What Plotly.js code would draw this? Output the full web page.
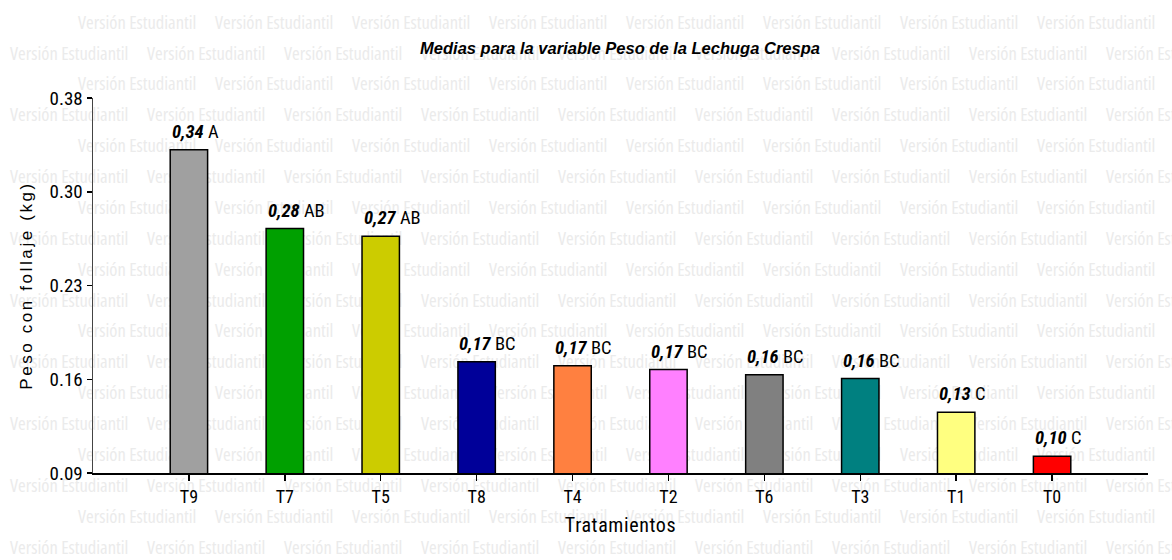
<!DOCTYPE html>
<html><head><meta charset="utf-8">
<script src="https://cdn.plot.ly/plotly-3.0.1.min.js"></script>
<style>
html,body{margin:0;padding:0;background:#fff;}
#chart{width:1172px;height:560px;}
.g-y2title text{letter-spacing:2.6px;}
.g-x2title text{letter-spacing:0.6px;}
.textpoint text{font-stretch:condensed;font-weight:300;}
</style></head><body><div id="chart"></div>
<script>
// ---- data ----
const tratamientos = ["T9","T7","T5","T8","T4","T2","T6","T3","T1","T0"];
const pesoMedio    = [0.340,0.279,0.273,0.176,0.173,0.170,0.166,0.163,0.137,0.103];
const etiquetasValor = ["0,34","0,28","0,27","0,17","0,17","0,17","0,16","0,16","0,13","0,10"];
const grupos       = ["A","AB","AB","BC","BC","BC","BC","BC","C","C"];
const colores      = ["#a0a0a0","#00a000","#cccc00","#000099","#ff8040","#ff80ff","#808080","#008080","#ffff80","#ff0000"];
const yTickVals    = [0.09,0.1625,0.235,0.3075,0.38];
const yTickText    = ["0.09","0.16","0.23","0.30","0.38"];
const tituloGrafico = "Medias para la variable Peso de la Lechuga Crespa";
const tituloX = "Tratamientos";
const tituloY = "Peso con follaje (kg)";
const marcaAgua = "Versión Estudiantil";

const NARROW = "Roboto Condensed, Liberation Sans Narrow, Arial Narrow, sans-serif";
const SANS = "Liberation Sans, Arial, sans-serif";
const WM = "Open Sans, sans-serif";

// ---- watermark grid (decoration, in page pixels) ----
const wmX = [], wmY = [], wmT = [];
for (let r = 0; r < 18; r++) {
  const y = 24 + r * 30.88;
  const start = (r % 2 === 0) ? 78 - 137 : 10;
  for (let x = start; x < 1172; x += 137) { wmX.push(x); wmY.push(y); wmT.push(marcaAgua); }
}

const wmTrace = {
  type: "scatter", mode: "text", x: wmX, y: wmY, text: wmT,
  textposition: "middle right", cliponaxis: false,
  textfont: {family: WM, size: 18.5, color: "#ebebeb"},
  hoverinfo: "skip", showlegend: false, xaxis: "x", yaxis: "y"
};

const barTrace = {
  type: "bar", x: tratamientos, y: pesoMedio, width: 0.39,
  marker: {color: colores, line: {color: "#000", width: 1.5}},
  xaxis: "x2", yaxis: "y2", showlegend: false, hoverinfo: "x+y"
};

const annotations = tratamientos.map((t, i) => ({
  xref: "x2", yref: "y2", x: i - 0.2, y: pesoMedio[i],
  xanchor: "left", yanchor: "bottom", yshift: 5, showarrow: false,
  text: "<b><i>" + etiquetasValor[i] + "</i></b> " + grupos[i],
  font: {family: NARROW, size: 18.5, color: "#000"}
}));

const layout = {
  width: 1172, height: 560,
  margin: {l: 0, r: 0, t: 0, b: 0},
  paper_bgcolor: "#fff", plot_bgcolor: "rgba(0,0,0,0)",
  showlegend: false,
  title: {text: "<b><i>" + tituloGrafico + "</i></b>", x: 0.529, xanchor: "center", y: 1 - 48/560, yanchor: "middle",
          font: {family: SANS, size: 16.5, color: "#000"}},
  xaxis: {domain: [0, 1], range: [0, 1172], visible: false, fixedrange: true},
  yaxis: {domain: [0, 1], range: [560, 0], visible: false, fixedrange: true},
  xaxis2: {
    anchor: "y2", domain: [93/1172, 1148/1172], type: "category", range: [-1, 10],
    showline: true, linecolor: "#000", linewidth: 2, mirror: false,
    ticks: "outside", ticklen: 6, tickwidth: 1.5, tickcolor: "#000",
    tickfont: {family: NARROW, size: 18, color: "#000"},
    showgrid: false, zeroline: false, automargin: false,
    title: {text: tituloX, standoff: 12, font: {family: NARROW, size: 20, color: "#000"}}
  },
  yaxis2: {
    anchor: "x2", domain: [1 - 473/560, 1 - 98/560], range: [0.09, 0.38],
    tickmode: "array", tickvals: yTickVals, ticktext: yTickText,
    showline: true, linecolor: "#444", linewidth: 1.5,
    ticks: "outside", ticklen: 5, tickwidth: 1.5, tickcolor: "#000",
    tickfont: {family: NARROW, size: 19, color: "#000"},
    showgrid: false, zeroline: false, automargin: false,
    title: {text: tituloY, standoff: 12, font: {family: SANS, size: 17, color: "#000"}}
  },
  annotations: annotations
};

Plotly.newPlot("chart", [wmTrace, barTrace], layout, {displayModeBar: false, staticPlot: true});
</script></body></html>
